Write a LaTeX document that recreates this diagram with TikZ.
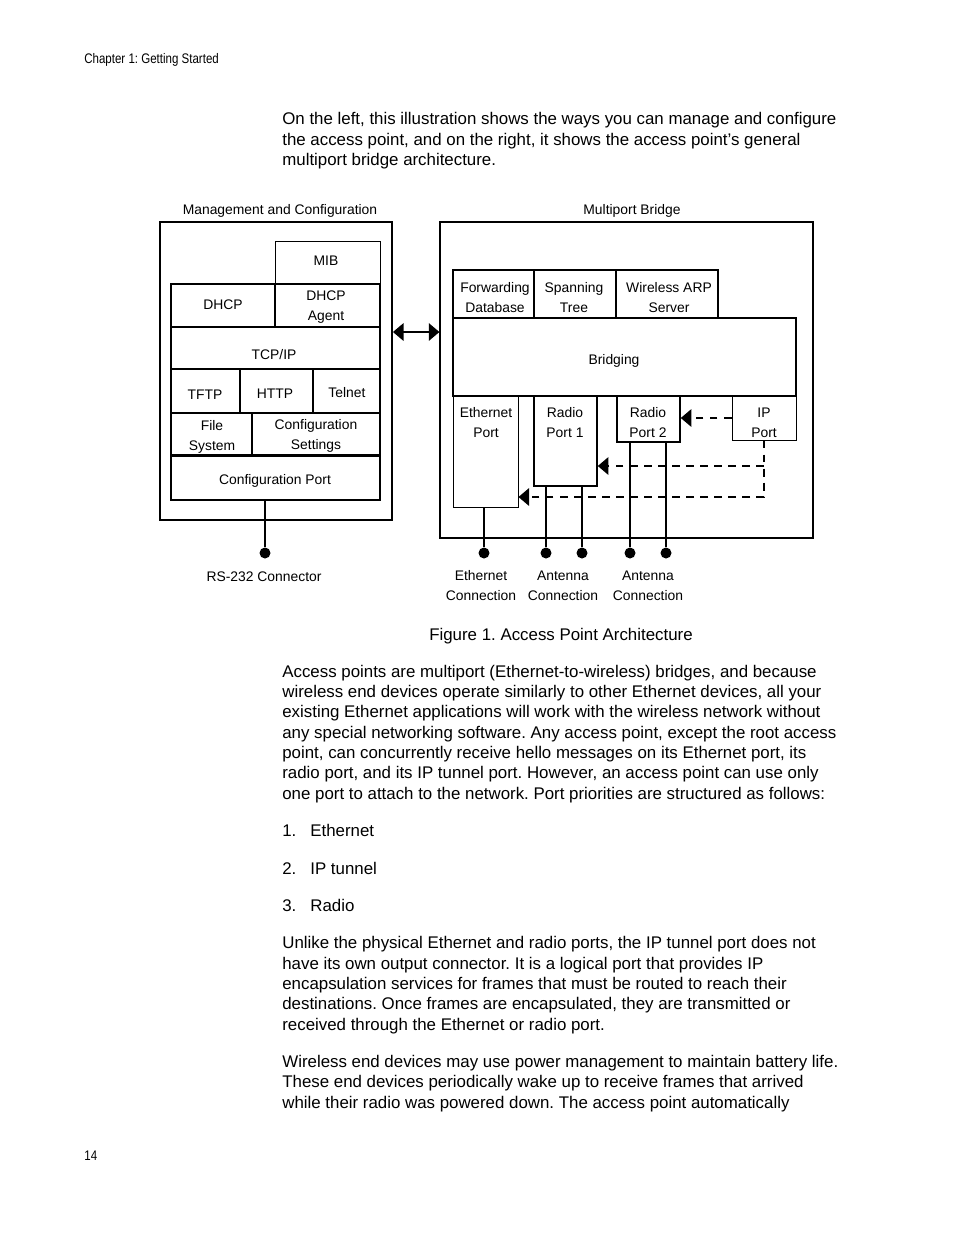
\documentclass[tikz,border=0pt]{standalone}
\usepackage{fontspec}
\setmainfont{Liberation Sans}
\newfontfamily\narrowfont[FakeStretch=0.83]{Liberation Sans}
\usetikzlibrary{arrows.meta,calc,positioning}
\newlength\px
\setlength\px{0.02cm}
\frenchspacing

\begin{document}
\begin{tikzpicture}[x=0.02cm,y=-0.02cm,
  body/.style={anchor=mid west,inner sep=0,yshift=-2\px,font=\fontsize{9.6}{11.5}\selectfont},
  lbl/.style={inner sep=0,align=center,yshift=-1.5\px,font=\fontsize{7.9}{11.3}\selectfont},
  box/.style={draw,inner sep=0,line width=0.9pt},
  thinbox/.style={box,line width=0.55pt},
  dot/.style={circle,fill,inner sep=0,minimum size=11\px},
  tip/.style={-{Triangle[length=6pt,width=10pt]}},
  dasharrow/.style={tip,dash pattern=on 4.5pt off 3.5pt,line width=0.7pt}]
\path[use as bounding box,fill=white](0,0) rectangle (954,1235);

% page header and number
\node[anchor=mid west,inner sep=0,yshift=-1\px,font=\narrowfont\fontsize{7.9}{9}\selectfont](header) at (84,58){Chapter 1: Getting Started};
\node[anchor=mid west,inner sep=0,yshift=-1\px,font=\narrowfont\fontsize{7.9}{9}\selectfont](pagenum) at (84,1155){14};

% text above the figure
\node[body](intro1) at (282,118){On the left, this illustration shows the ways you can manage and configure};
\node[body](intro2) at (282,139){the access point, and on the right, it shows the access point’s general};
\node[body](intro3) at (282,159){multiport bridge architecture.};

% management and configuration
\node[lbl](mgmttitle) at (280,209){Management and Configuration};
\node[box,line width=1.1pt,minimum width=232\px,minimum height=298\px](mgmt) at (276,371){};
\node[thinbox,minimum width=105\px,minimum height=43\px](mib) at (327.5,262.5){};
\node[box,minimum width=104\px,minimum height=43\px](dhcp) at (223,305.5){};
\node[box,minimum width=105\px,minimum height=43\px](dhcpagent) at (327.5,305.5){};
\node[box,minimum width=209\px,minimum height=42\px](tcpip) at (275.5,348){};
\node[box,minimum width=69\px,minimum height=44\px](tftp) at (205.5,391){};
\node[box,minimum width=73\px,minimum height=44\px](http) at (276.5,391){};
\node[box,minimum width=67\px,minimum height=44\px](telnet) at (346.5,391){};
\node[box,minimum width=81\px,minimum height=42\px](filesys) at (211.5,434){};
\node[box,minimum width=128\px,minimum height=42\px](cfgset) at (316,434){};
\node[box,minimum width=209\px,minimum height=44\px](cfgport) at (275.5,478){};
\node[lbl](mibtxt) at (326,259){MIB};
\node[lbl](dhcptxt) at (223,303){DHCP};
\node[lbl](agenttxt) at (326,306){DHCP\\Agent};
\node[lbl](tcptxt) at (274,353){TCP/IP};
\node[lbl](tftptxt) at (205,393){TFTP};
\node[lbl](httptxt) at (275,392){HTTP};
\node[lbl](telnettxt) at (347,391){Telnet};
\node[lbl](filetxt) at (212,435){File\\System};
\node[lbl](settxt) at (316,434){Configuration\\Settings};
\node[lbl](porttxt) at (275,479){Configuration Port};
\node[dot](rsdot) at (265,553){};
\draw[line width=0.6pt](rsdot|-cfgport.south)--(rsdot);
\node[lbl](rslbl) at (264,575){RS-232 Connector};

% multiport bridge
\node[lbl](bridgetitle) at (632,209){Multiport Bridge};
\node[box,line width=0.7pt,minimum width=373\px,minimum height=316\px](bridgebox) at (626.5,380){};
\node[box,minimum width=81\px,minimum height=48\px](fwd) at (493.5,294){};
\node[box,minimum width=82\px,minimum height=48\px](span) at (575,294){};
\node[box,minimum width=102\px,minimum height=48\px](warp) at (667,294){};
\node[box,minimum width=343\px,minimum height=78\px](bridging) at (624.5,357){};
\node[thinbox,minimum width=65\px,minimum height=111\px](ethport) at (485.5,451.5){};
\node[box,minimum width=63\px,minimum height=90\px](rport1) at (565.5,441){};
\node[box,minimum width=63\px,minimum height=46\px](rport2) at (648.5,419){};
\node[thinbox,minimum width=64\px,minimum height=44\px](ipport) at (764,418){};
\node[lbl](fwdtxt) at (495,296){Forwarding\\Database};
\node[lbl](spantxt) at (574,296){Spanning\\Tree};
\node[lbl](warptxt) at (669,296){Wireless ARP\\Server};
\node[lbl](bridgingtxt) at (614,359){Bridging};
\node[lbl](ethtxt) at (486,421){Ethernet\\Port};
\node[lbl](r1txt) at (565,421){Radio\\Port 1};
\node[lbl](r2txt) at (648,421){Radio\\Port 2};
\node[lbl](iptxt) at (764,421){IP\\Port};

\draw[{Triangle[length=6pt,width=10pt]}-{Triangle[length=6pt,width=10pt]},line width=0.6pt]
  (mgmt.east|-0,332)--(bridgebox.west|-0,332);

\draw[dasharrow](ipport.west)--(rport2.east|-ipport.west);
\draw[dasharrow](ipport.south)|-(ethport.east|-0,497);
\draw[dasharrow](ipport.south|-0,466)--(rport1.east|-0,466);

\node[dot](ethdot) at (484,553){};
\node[dot](ant1a) at (546,553){};
\node[dot](ant1b) at (582,553){};
\node[dot](ant2a) at (630,553){};
\node[dot](ant2b) at (666,553){};
\draw[line width=0.6pt](ethdot|-ethport.south)--(ethdot);
\draw[line width=1pt](ant1a|-rport1.south)--(ant1a);
\draw[line width=1pt](ant1b|-rport1.south)--(ant1b);
\draw[line width=1pt](ant2a|-rport2.south)--(ant2a);
\draw[line width=1pt](ant2b|-rport2.south)--(ant2b);
\node[lbl](ethlbl) at (481,584){Ethernet\\Connection};
\node[lbl](ant1lbl) at (563,584){Antenna\\Connection};
\node[lbl](ant2lbl) at (648,584){Antenna\\Connection};

\node[body,anchor=mid](caption) at (561,634){Figure 1. Access Point Architecture};

% text below the figure
\node[body](para1) at (282,671){Access points are multiport (Ethernet-to-wireless) bridges, and because};
\node[body](para2) at (282,691){wireless end devices operate similarly to other Ethernet devices, all your};
\node[body](para3) at (282,711){existing Ethernet applications will work with the wireless network without};
\node[body](para4) at (282,732){any special networking software. Any access point, except the root access};
\node[body](para5) at (282,752){point, can concurrently receive hello messages on its Ethernet port, its};
\node[body](para6) at (282,772){radio port, and its IP tunnel port. However, an access point can use only};
\node[body](para7) at (282,793){one port to attach to the network. Port priorities are structured as follows:};

\node[body](num1) at (282,830){1.};\node[body](item1) at (310,830){Ethernet};
\node[body](num2) at (282,868){2.};\node[body](item2) at (310,868){IP tunnel};
\node[body](num3) at (282,905){3.};\node[body](item3) at (310,905){Radio};

\node[body](tun1) at (282,942){Unlike the physical Ethernet and radio ports, the IP tunnel port does not};
\node[body](tun2) at (282,963){have its own output connector. It is a logical port that provides IP};
\node[body](tun3) at (282,983){encapsulation services for frames that must be routed to reach their};
\node[body](tun4) at (282,1003){destinations. Once frames are encapsulated, they are transmitted or};
\node[body](tun5) at (282,1024){received through the Ethernet or radio port.};

\node[body](pwr1) at (282,1061){Wireless end devices may use power management to maintain battery life.};
\node[body](pwr2) at (282,1081){These end devices periodically wake up to receive frames that arrived};
\node[body](pwr3) at (282,1102){while their radio was powered down. The access point automatically};
\end{tikzpicture}
\end{document}
